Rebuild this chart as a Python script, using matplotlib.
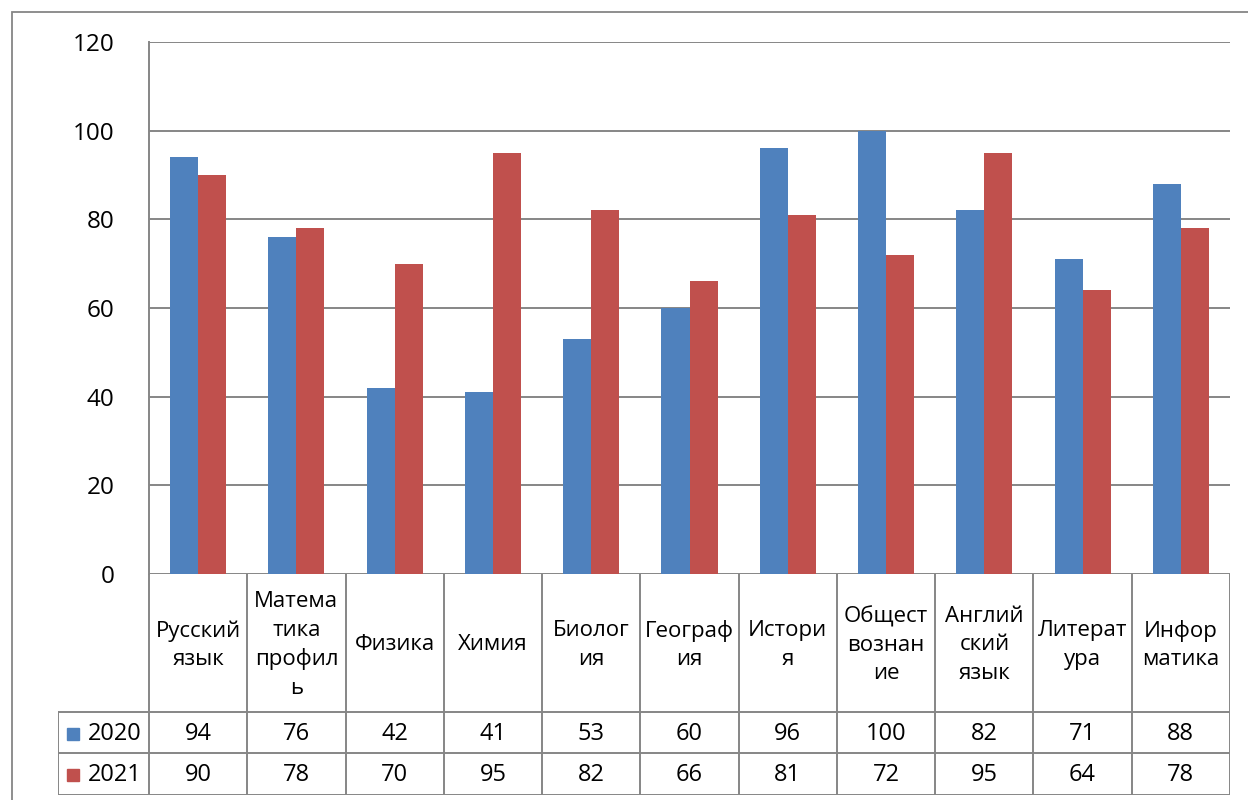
import matplotlib
matplotlib.use("Agg")
import matplotlib.pyplot as plt
from matplotlib.patches import Rectangle

plt.rcParams['font.family'] = ['Open Sans', 'DejaVu Sans']

# Данные
categories = ["Русский\nязык", "Матема\nтика\nпрофил\nь", "Физика", "Химия",
              "Биолог\nия", "Географ\nия", "Истори\nя", "Общест\nвознан\nие",
              "Англий\nский\nязык", "Литерат\nура", "Инфор\nматика"]
years = ["2020", "2021"]
v2020 = [94, 76, 42, 41, 53, 60, 96, 100, 82, 71, 88]
v2021 = [90, 78, 70, 95, 82, 66, 81, 72, 95, 64, 78]
yticks = [0, 20, 40, 60, 80, 100, 120]

blue = "#4F81BD"
red = "#C0504D"
grid = "#868686"

W, H = 1248, 800
fig = plt.figure(figsize=(W / 100, H / 100), dpi=100)

# внешняя рамка
fig.patches.append(Rectangle((12 / W, -0.05), 1.2, 1 - 12 / H + 0.05,
                             transform=fig.transFigure, fill=False,
                             edgecolor=grid, linewidth=1.3))

L, R, T, B = 149, 1230, 42, 574
ax = fig.add_axes([L / W, 1 - B / H, (R - L) / W, (B - T) / H])
n = len(categories)
x = [i + 0.5 for i in range(n)]
bw = 0.285
ax.bar([xi - bw / 2 for xi in x], v2020, bw, color=blue, zorder=3)
ax.bar([xi + bw / 2 for xi in x], v2021, bw, color=red, zorder=3)
ax.set_xlim(0, n)
ax.set_ylim(0, 120)
ax.set_yticks(yticks)
ax.set_xticks([])
ax.yaxis.grid(True, color=grid, linewidth=1.4)
ax.tick_params(axis='y', length=0, pad=25, labelsize=17.5)
for s in ["top", "right", "bottom"]:
    ax.spines[s].set_visible(False)
ax.spines["left"].set_color(grid)
ax.spines["left"].set_linewidth(1.4)
ax.set_axisbelow(True)

# Таблица данных
cw = (R - L) / n
TB = 795
LL = 58
at = fig.add_axes([LL / W, 1 - TB / H, (R - LL) / W, (TB - B) / H])
x0 = -(L - LL) / cw
at.set_xlim(x0, n)
at.set_ylim(TB - B, 0)
at.axis("off")
r1, r2, r3 = 712 - B, 753 - B, TB - B
kw = dict(color=grid, linewidth=1.4, solid_capstyle="projecting")
for i in range(n + 1):
    at.plot([i, i], [0, r3], **kw)
at.plot([x0, x0], [r1, r3], **kw)
for y in [r1, r2, r3]:
    at.plot([x0, n], [y, y], **kw)

for i, c in enumerate(categories):
    at.text(i + 0.5, r1 / 2 + 2, c, ha="center", va="center", fontsize=16,
            linespacing=1.45)
for row, (yr, vals, col) in enumerate([(years[0], v2020, blue), (years[1], v2021, red)]):
    yc = (r1 + r2) / 2 + 1 if row == 0 else (r2 + r3) / 2 + 1
    at.add_patch(Rectangle(((67 - L) / cw, yc - 6), 12 / cw, 12, color=col))
    at.text((88 - L) / cw, yc, yr, ha="left", va="center", fontsize=17)
    for i, v in enumerate(vals):
        at.text(i + 0.5, yc, str(v), ha="center", va="center", fontsize=17)

fig.savefig("out.png", dpi=100)
